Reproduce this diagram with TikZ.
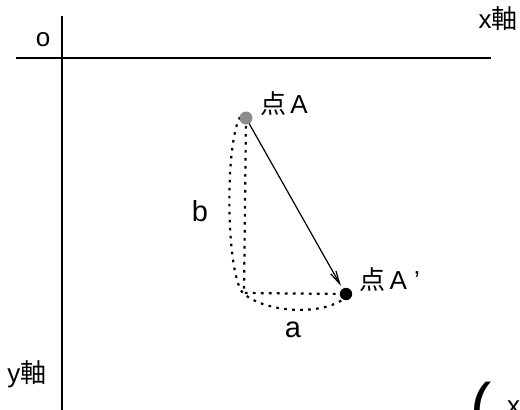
\documentclass[tikz,border=0pt]{standalone}
\usepackage{fontspec}
\setmainfont{Liberation Sans}
\newfontfamily\jpfont{Noto Sans CJK JP}
\usetikzlibrary{arrows.meta}
\begin{document}
\begin{tikzpicture}[x=1pt,y=-1pt,
  axis/.style={line width=2.6pt},
  dotline/.style={line width=2.2pt,dash pattern=on 2.6pt off 5.4pt},
  lbl/.style={inner sep=0pt,anchor=center},
  txt/.style={font=\fontsize{26}{30}\selectfont},
  bigtxt/.style={font=\fontsize{29}{33}\selectfont},
]
\useasboundingbox (0,0) rectangle (520,410);
% axes
\coordinate (hl) at (16,58);
\coordinate (hr) at (491,58);
\coordinate (vt) at (62,16);
\coordinate (vb) at (62,412);
\draw[axis] (hl) -- (hr);
\draw[axis] (vt) -- (vb);
\node[lbl,txt] (o) at (43,40) {o};
\node[lbl,txt] (xl) at (498,19) {x\jpfont 軸};
\node[lbl,txt] (yl) at (27,374) {y\jpfont 軸};
% points
\coordinate (A) at (246,118);
\coordinate (Ap) at (346,294);
\coordinate (C) at (244,293);
\coordinate (tip) at (341,286);
\draw[dotline] (A) -- (C) -- (Ap);
\draw[dotline] (240,117) .. controls (225,145) and (226,268) .. (242,292)
  .. controls (262,312) and (318,316) .. (342,300);
\draw[line width=1.2pt,-{Straight Barb[length=13pt,width=6pt,line width=1.2pt]}] (A) -- (tip);
\fill[gray!90] (A) circle (6.5);
\fill[black] (Ap) circle (6.2);
\node[lbl,txt] (lA) at (284,104) {{\jpfont 点}\,A};
\node[lbl,txt,anchor=west] (lAp) at (359,280) {{\jpfont 点}\,A '};
\node[lbl,bigtxt] (b) at (200,211) {b};
\node[lbl,bigtxt] (a) at (293,330) {a};
% clipped text at bottom right
\node[lbl,anchor=base west,font=\fontsize{64}{68}\selectfont] (par) at (470,428) {(};
\node[lbl,anchor=base west,txt] (xx) at (507,414) {x};
\end{tikzpicture}
\end{document}
